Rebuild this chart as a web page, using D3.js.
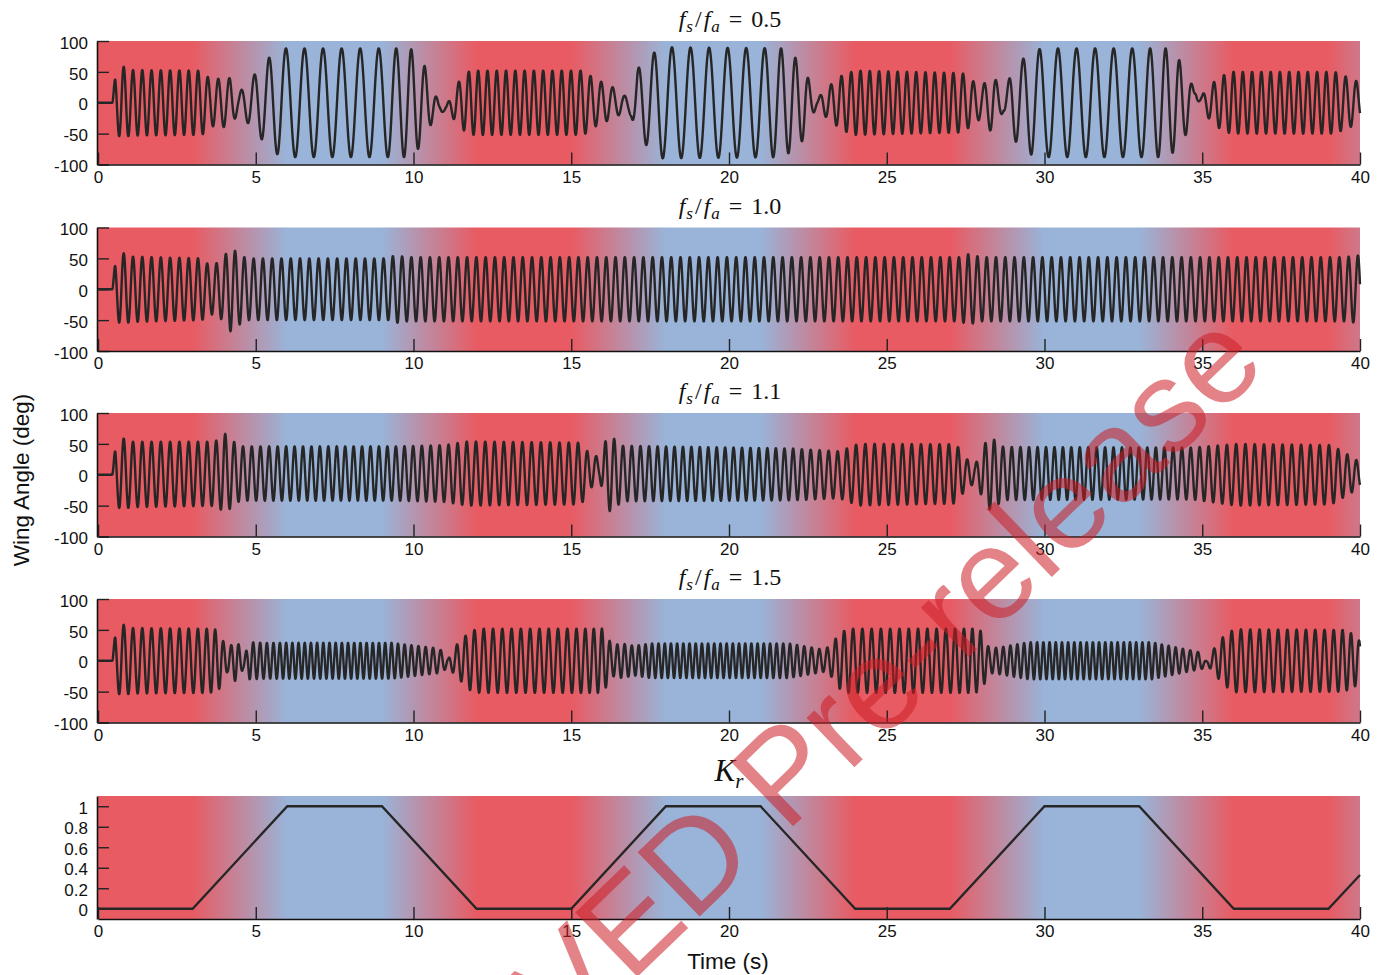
<!DOCTYPE html>
<html>
<head>
<meta charset="utf-8">
<script src="https://cdn.jsdelivr.net/npm/d3@7"></script>
<style>
  body { margin: 0; background: #fff; }
  svg { display: block; }
  text { font-family: "Liberation Sans", Arial, sans-serif; fill: #111; }
</style>
</head>
<body>
<svg id="chart" width="1386" height="975"></svg>
<script>
//---------------- data ----------------//
const ratios = [0.5, 1.0, 1.1, 1.5];
const timeTicks = [0, 5, 10, 15, 20, 25, 30, 35, 40];
const angleTicks = [-100, -50, 0, 50, 100];
const krTicks = [0, 0.2, 0.4, 0.6, 0.8, 1];

// K_r schedule (bottom panel), also drives the background colour
const krTime  = [0, 3, 6, 9, 12, 15, 18, 21, 24, 27, 30, 33, 36, 39, 40];
const krValue = [0, 0, 1, 1, 0,  0,  1,  1,  0,  0,  1,  1,  0,  0,  0.33];

const flapFreq = 3.4;
const startTime = 0.45; // wing sits at 0 before this

// amplitude envelopes (deg)
const envTime1 = [0, 0.45, 0.55, 0.75, 1.0, 3.3, 3.55, 4.2, 4.45, 4.9, 5.4, 5.8, 9.9, 10.1, 10.35, 10.6, 10.8, 11.05, 11.3, 11.6, 11.8, 15.4, 15.7, 16.2, 16.9, 17.1, 17.45, 17.8, 21.7, 22.0, 22.4, 22.6, 22.8, 23.0, 23.6, 24.0, 27.4, 28.0, 28.35, 28.7, 29.0, 29.3, 29.6, 30, 33.9, 34.2, 34.5, 34.75, 34.95, 35.2, 35.5, 35.9, 39.2, 39.9, 40];
const envAmp1  = [0, 0,    45,   60,   53,  52,  38,   40,  15,   42,  72,  88,  88,  78,   60,    30,   5,    5,     25,   45,   52,   52,   40,   28,   10,   55,   72,    90,   88,   78,   58,   25,   5,    20,   45,   52,   48,   25,   50,    8,    60,   70,   85,   88, 88,   75,   50,   8,     10,    25,   40,   50,   50,   35,   30];
const offTime1 = [0, 10.6, 10.9, 11.1, 11.4, 16.6, 16.9, 17.1, 28.5, 28.7, 28.9, 34.55, 34.8, 35.0, 40];
const offVal1  = [0, 0,    -10,  -8,   0,    0,    -12,  0,    0,    -6,   0,    0,     18,   0,    0];

const envTime2 = [0, 0.45, 0.55, 0.75, 1.0, 3.3, 3.5, 3.75, 3.95, 4.2, 4.4, 4.7, 9.2, 9.4, 9.8, 27.3, 27.6, 28.0, 39.5, 40];
const envAmp2  = [0, 0,    45,   60,   53,  50,  40,  42,   50,   68,  60,  50,  50,  55,  52,  52,   57,   52,   52,   55];
const offTime2 = [0, 40];
const offVal2  = [0, 0];

const envTime3 = [0, 0.45, 0.55, 0.75, 1.0, 3.6, 3.85, 4.0, 4.2, 4.5, 9.5, 11.0, 11.7, 15.3, 15.6, 15.9, 16.1, 16.3, 16.6, 22.0, 23.5, 24.1, 27.2, 27.5, 27.8, 28.05, 28.2, 28.4, 28.7, 34.7, 36.1, 39.1, 39.7, 40];
const envAmp3  = [0, 0,    45,   60,   53,  52,  55,   66,  56,  44,  44,  46,   52,   50,   30,   12,   58,   60,   45,   42,   38,   50,   48,   25,   15,   40,    59,   55,   43,   42,   50,   48,   30,   20];
const offTime3 = [0, 4.5, 15.5, 15.8, 16.05, 16.6, 23.8, 28.6, 34.7, 36.0, 40];
const offVal3  = [0, 2,   2,    12,   0,     2,    0,    2,    2,    0,    0];

const envTime4 = [0, 0.45, 0.55, 0.75, 1.0, 3.5, 3.8, 4.1, 4.4, 4.6, 4.8, 5.3, 9.3, 10.8, 11.1, 11.4, 11.8, 12.1, 16.0, 16.3, 16.6, 17.0, 17.5, 21.9, 23.0, 23.25, 23.5, 23.8, 27.8, 28.0, 28.25, 28.6, 29.5, 33.4, 34.9, 35.15, 35.45, 35.65, 36.0, 39.5, 39.9, 40];
const envAmp4  = [0, 0,    45,   60,   53,  52,  50,  18,  36,  8,   30,  29,  29,  20,   8,    28,   48,   52,   52,   25,   28,   24,   28,   28,   18,   26,    45,   52,   52,   48,   20,    22,   30,   30,   14,   4,     25,    38,    51,   50,   40,   30];
const offTime4 = [0, 4.4, 4.6, 4.8, 10.9, 11.1, 11.3, 34.9, 35.1, 35.3, 40];
const offVal4  = [0, 0,   -5,  0,   0,    -5,   0,    0,    -6,   0,    0];

const envelopes = [
  [envTime1, envAmp1, offTime1, offVal1],
  [envTime2, envAmp2, offTime2, offVal2],
  [envTime3, envAmp3, offTime3, offVal3],
  [envTime4, envAmp4, offTime4, offVal4]
];

//---------------- layout ----------------//
const svg = d3.select("#chart");
const left = 98, right = 1360;
const panelTops = [41, 227.5, 413, 599];
const panelH = 123.5;
const krTop = 796, krH = 123;

const redCol = d3.rgb(232, 91, 99);
const blueCol = d3.rgb(153, 180, 216);
const colorOf = d3.interpolateRgb(redCol, blueCol);

const x = d3.scaleLinear().domain([0, 40]).range([left, right]);
const kr = d3.scaleLinear().domain(krTime).range(krValue).clamp(true);

// one shared gradient built from the K_r schedule
const defs = svg.append("defs");
const grad = defs.append("linearGradient")
  .attr("id", "krGrad")
  .attr("gradientUnits", "userSpaceOnUse")
  .attr("x1", x(0)).attr("x2", x(40)).attr("y1", 0).attr("y2", 0);
krTime.forEach((t, i) => {
  grad.append("stop")
    .attr("offset", t / 40)
    .attr("stop-color", colorOf(krValue[i]));
});

function drawAxes(g, y, top, h, ticks) {
  g.append("rect")
    .attr("x", left).attr("y", top)
    .attr("width", right - left).attr("height", h)
    .attr("fill", "url(#krGrad)");

  const yAxis = d3.axisLeft(y).tickValues(ticks)
    .tickSizeInner(-12).tickSizeOuter(0).tickPadding(9)
    .tickFormat(d => String(d));
  const ya = g.append("g").attr("transform", `translate(${left - 1},0)`).call(yAxis);
  ya.selectAll(".tick text").attr("dy", "0.42em");

  const xAxis = d3.axisBottom(x).tickValues(timeTicks)
    .tickSizeInner(-12).tickSizeOuter(0).tickPadding(6)
    .tickFormat(d => String(d));
  const xa = g.append("g").attr("transform", `translate(0,${top + h})`).call(xAxis);

  [ya, xa].forEach(a => {
    a.select(".domain").attr("stroke", "#111").attr("stroke-width", 1.6);
    a.selectAll(".tick line").attr("stroke", "#222").attr("stroke-width", 1.4);
    a.selectAll(".tick text").style("font-size", "17px").attr("fill", "#111");
  });
}

// wing-angle panels
const dt = 0.004;
ratios.forEach((ratio, p) => {
  const top = panelTops[p];
  const y = d3.scaleLinear().domain([-100, 100]).range([top + panelH, top]);
  const g = svg.append("g");
  drawAxes(g, y, top, panelH, angleTicks);

  const [et, ea, ot, ov] = envelopes[p];
  const env = d3.scaleLinear().domain(et).range(ea).clamp(true);
  const off = d3.scaleLinear().domain(ot).range(ov).clamp(true);

  const pts = [];
  let phase = 0;
  for (let i = 0; i * dt <= 40 + 1e-9; i++) {
    const t = i * dt;
    if (t < startTime) { pts.push([t, 0]); continue; }
    const f = flapFreq * (1 + (ratio - 1) * kr(t));
    phase += 2 * Math.PI * f * dt;
    pts.push([t, off(t) + env(t) * Math.sin(phase)]);
  }

  g.append("path")
    .datum(pts)
    .attr("fill", "none")
    .attr("stroke", "#262626")
    .attr("stroke-width", 2.4)
    .attr("stroke-linejoin", "round")
    .attr("d", d3.line().x(d => x(d[0])).y(d => y(d[1])));

  // title  f_s / f_a = ratio
  const title = svg.append("text")
    .attr("x", 730)
    .attr("y", top - 14)
    .attr("text-anchor", "middle")
    .style("font-family", "'Liberation Serif', 'DejaVu Serif', serif")
    .style("font-size", "24px");
  title.append("tspan").attr("font-style", "italic").text("f");
  title.append("tspan").attr("font-style", "italic").attr("dy", 5).attr("dx", 1).style("font-size", "17px").text("s");
  title.append("tspan").attr("dy", -5).attr("dx", 2).text("/");
  title.append("tspan").attr("font-style", "italic").attr("dx", 2).text("f");
  title.append("tspan").attr("font-style", "italic").attr("dy", 5).attr("dx", 1).style("font-size", "17px").text("a");
  title.append("tspan").attr("dy", -5).attr("dx", 9).text("=");
  title.append("tspan").attr("dx", 9).text(ratio.toFixed(1));
});

// K_r panel
{
  const g = svg.append("g");
  const y = d3.scaleLinear().domain([-0.1, 1.1]).range([krTop + krH, krTop]);
  drawAxes(g, y, krTop, krH, krTicks);
  g.append("path")
    .datum(krTime.map((t, i) => [t, krValue[i]]))
    .attr("fill", "none")
    .attr("stroke", "#262626")
    .attr("stroke-width", 2.3)
    .attr("d", d3.line().x(d => x(d[0])).y(d => y(d[1])));

  const kt = svg.append("text")
    .attr("x", 729).attr("y", 781)
    .attr("text-anchor", "middle")
    .style("font-family", "'Liberation Serif', 'DejaVu Serif', serif")
    .style("font-size", "31px");
  kt.append("tspan").attr("font-style", "italic").text("K");
  kt.append("tspan").attr("font-style", "italic").attr("dy", 7).style("font-size", "21px").text("r");
}

// axis labels
svg.append("text")
  .attr("transform", "translate(29,480) rotate(-90)")
  .attr("text-anchor", "middle")
  .style("font-size", "22.5px")
  .text("Wing Angle (deg)");

svg.append("text")
  .attr("x", 728).attr("y", 969)
  .attr("text-anchor", "middle")
  .style("font-size", "22.5px")
  .text("Time (s)");

// watermark
svg.append("text")
  .attr("transform", "translate(1269,367) rotate(-44)")
  .attr("text-anchor", "end")
  .style("font-size", "130px")
  .style("fill", "rgb(205,30,38)")
  .style("opacity", 0.55)
  .text("UNAPPROVED Pre-release");
</script>
</body>
</html>
